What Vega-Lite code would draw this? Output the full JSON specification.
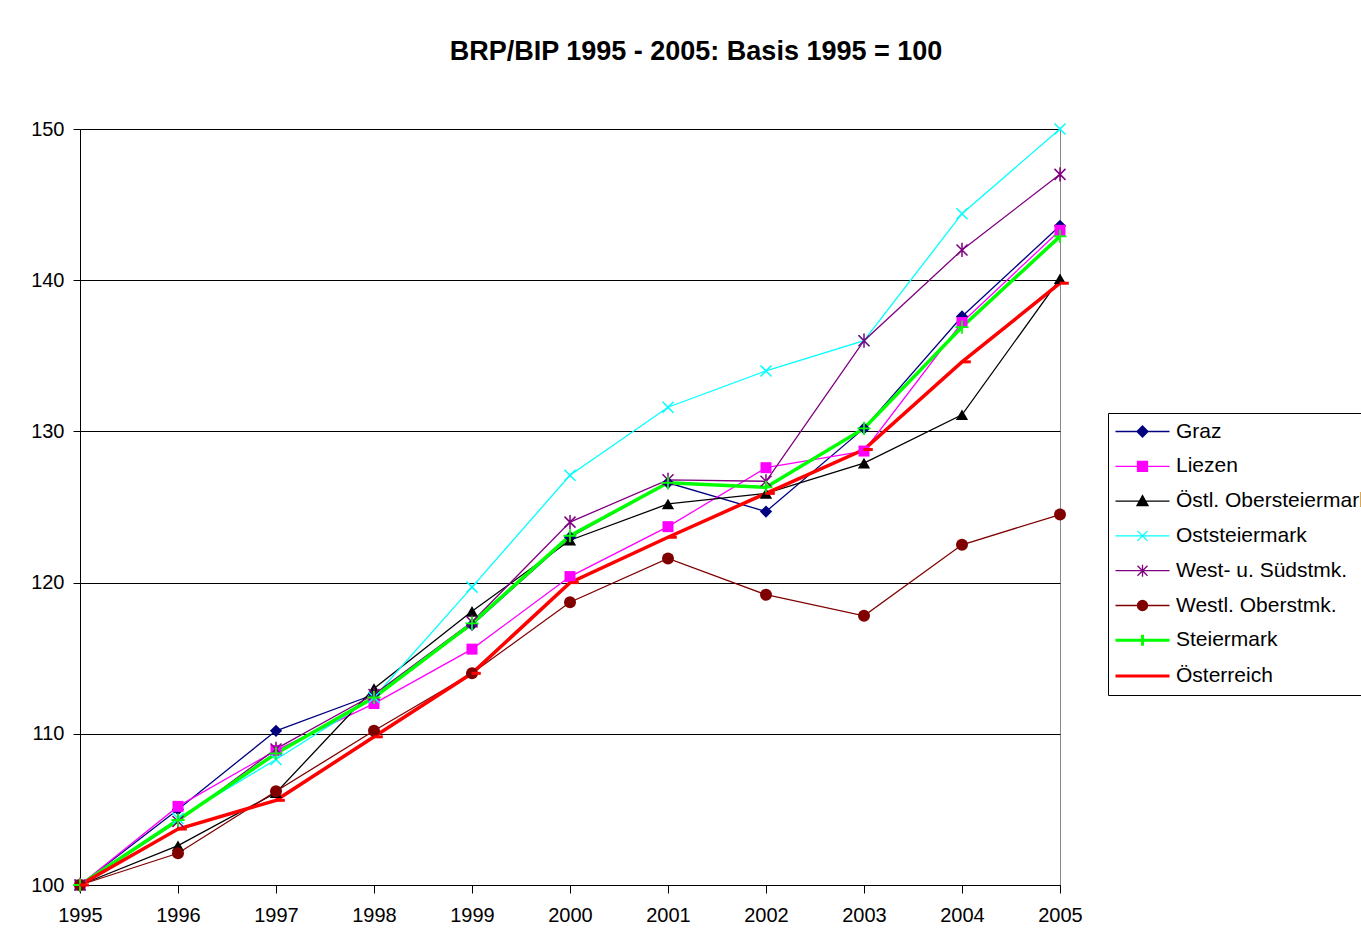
{
  "$schema": "https://vega.github.io/schema/vega-lite/v6.json",
  "width": 980,
  "height": 756,
  "autosize": {"type": "none"},
  "padding": {"left": 80, "top": 129, "right": 301, "bottom": 46},
  "background": "white",
  "config": {
    "view": {"stroke": "#888888", "strokeWidth": 1},
    "font": "Liberation Sans"
  },
  "title": {
    "text": "BRP/BIP 1995 - 2005: Basis 1995 = 100",
    "font": "Liberation Sans",
    "fontSize": 27,
    "fontWeight": "bold",
    "color": "#000",
    "anchor": "middle",
    "dx": 126,
    "baseline": "alphabetic",
    "offset": 32
  },
  "data": {
    "values": [
      {"year": 1995, "series": "Graz", "value": 100},
      {"year": 1996, "series": "Graz", "value": 105.0},
      {"year": 1997, "series": "Graz", "value": 110.2},
      {"year": 1998, "series": "Graz", "value": 112.6},
      {"year": 1999, "series": "Graz", "value": 117.2},
      {"year": 2000, "series": "Graz", "value": 123.0},
      {"year": 2001, "series": "Graz", "value": 126.6},
      {"year": 2002, "series": "Graz", "value": 124.7},
      {"year": 2003, "series": "Graz", "value": 130.2},
      {"year": 2004, "series": "Graz", "value": 137.6},
      {"year": 2005, "series": "Graz", "value": 143.6},
      {"year": 1995, "series": "Liezen", "value": 100},
      {"year": 1996, "series": "Liezen", "value": 105.2},
      {"year": 1997, "series": "Liezen", "value": 108.9},
      {"year": 1998, "series": "Liezen", "value": 112.0},
      {"year": 1999, "series": "Liezen", "value": 115.6},
      {"year": 2000, "series": "Liezen", "value": 120.4},
      {"year": 2001, "series": "Liezen", "value": 123.7},
      {"year": 2002, "series": "Liezen", "value": 127.6},
      {"year": 2003, "series": "Liezen", "value": 128.7},
      {"year": 2004, "series": "Liezen", "value": 137.2},
      {"year": 2005, "series": "Liezen", "value": 143.3},
      {"year": 1995, "series": "Östl. Obersteiermark", "value": 100},
      {"year": 1996, "series": "Östl. Obersteiermark", "value": 102.6},
      {"year": 1997, "series": "Östl. Obersteiermark", "value": 106.1},
      {"year": 1998, "series": "Östl. Obersteiermark", "value": 113.0},
      {"year": 1999, "series": "Östl. Obersteiermark", "value": 118.1},
      {"year": 2000, "series": "Östl. Obersteiermark", "value": 122.8},
      {"year": 2001, "series": "Östl. Obersteiermark", "value": 125.2},
      {"year": 2002, "series": "Östl. Obersteiermark", "value": 125.9},
      {"year": 2003, "series": "Östl. Obersteiermark", "value": 127.9},
      {"year": 2004, "series": "Östl. Obersteiermark", "value": 131.1},
      {"year": 2005, "series": "Östl. Obersteiermark", "value": 140.1},
      {"year": 1995, "series": "Oststeiermark", "value": 100},
      {"year": 1996, "series": "Oststeiermark", "value": 104.4},
      {"year": 1997, "series": "Oststeiermark", "value": 108.3},
      {"year": 1998, "series": "Oststeiermark", "value": 112.4},
      {"year": 1999, "series": "Oststeiermark", "value": 119.7},
      {"year": 2000, "series": "Oststeiermark", "value": 127.1},
      {"year": 2001, "series": "Oststeiermark", "value": 131.6},
      {"year": 2002, "series": "Oststeiermark", "value": 134.0},
      {"year": 2003, "series": "Oststeiermark", "value": 136.0},
      {"year": 2004, "series": "Oststeiermark", "value": 144.4},
      {"year": 2005, "series": "Oststeiermark", "value": 150.0},
      {"year": 1995, "series": "West- u. Südstmk.", "value": 100},
      {"year": 1996, "series": "West- u. Südstmk.", "value": 104.2},
      {"year": 1997, "series": "West- u. Südstmk.", "value": 109.0},
      {"year": 1998, "series": "West- u. Südstmk.", "value": 112.6},
      {"year": 1999, "series": "West- u. Südstmk.", "value": 117.4},
      {"year": 2000, "series": "West- u. Südstmk.", "value": 124.0},
      {"year": 2001, "series": "West- u. Südstmk.", "value": 126.8},
      {"year": 2002, "series": "West- u. Südstmk.", "value": 126.7},
      {"year": 2003, "series": "West- u. Südstmk.", "value": 136.0},
      {"year": 2004, "series": "West- u. Südstmk.", "value": 142.0},
      {"year": 2005, "series": "West- u. Südstmk.", "value": 147.0},
      {"year": 1995, "series": "Westl. Oberstmk.", "value": 100},
      {"year": 1996, "series": "Westl. Oberstmk.", "value": 102.1},
      {"year": 1997, "series": "Westl. Oberstmk.", "value": 106.2},
      {"year": 1998, "series": "Westl. Oberstmk.", "value": 110.2},
      {"year": 1999, "series": "Westl. Oberstmk.", "value": 114.0},
      {"year": 2000, "series": "Westl. Oberstmk.", "value": 118.7},
      {"year": 2001, "series": "Westl. Oberstmk.", "value": 121.6},
      {"year": 2002, "series": "Westl. Oberstmk.", "value": 119.2},
      {"year": 2003, "series": "Westl. Oberstmk.", "value": 117.8},
      {"year": 2004, "series": "Westl. Oberstmk.", "value": 122.5},
      {"year": 2005, "series": "Westl. Oberstmk.", "value": 124.5},
      {"year": 1995, "series": "Steiermark", "value": 100},
      {"year": 1996, "series": "Steiermark", "value": 104.3},
      {"year": 1997, "series": "Steiermark", "value": 108.7},
      {"year": 1998, "series": "Steiermark", "value": 112.4},
      {"year": 1999, "series": "Steiermark", "value": 117.3},
      {"year": 2000, "series": "Steiermark", "value": 123.1},
      {"year": 2001, "series": "Steiermark", "value": 126.6},
      {"year": 2002, "series": "Steiermark", "value": 126.3},
      {"year": 2003, "series": "Steiermark", "value": 130.2},
      {"year": 2004, "series": "Steiermark", "value": 136.9},
      {"year": 2005, "series": "Steiermark", "value": 142.9},
      {"year": 1995, "series": "Österreich", "value": 100},
      {"year": 1996, "series": "Österreich", "value": 103.7},
      {"year": 1997, "series": "Österreich", "value": 105.6},
      {"year": 1998, "series": "Österreich", "value": 109.8},
      {"year": 1999, "series": "Österreich", "value": 114.0},
      {"year": 2000, "series": "Österreich", "value": 120.0},
      {"year": 2001, "series": "Österreich", "value": 123.0},
      {"year": 2002, "series": "Österreich", "value": 125.9},
      {"year": 2003, "series": "Österreich", "value": 128.8},
      {"year": 2004, "series": "Österreich", "value": 134.6},
      {"year": 2005, "series": "Österreich", "value": 139.8}
    ]
  },
  "encoding": {
    "x": {
      "field": "year",
      "type": "quantitative",
      "scale": {"domain": [1995, 2005], "nice": false, "zero": false},
      "axis": {
        "title": null,
        "values": [1995, 1996, 1997, 1998, 1999, 2000, 2001, 2002, 2003, 2004, 2005],
        "format": "d",
        "grid": false,
        "domainColor": "#000",
        "tickColor": "#000",
        "tickSize": 8,
        "labelFont": "Liberation Sans",
        "labelFontSize": 20,
        "labelColor": "#000",
        "labelPadding": 12,
        "labelFlush": false,
        "labelOverlap": false
      }
    },
    "y": {
      "field": "value",
      "type": "quantitative",
      "scale": {"domain": [100, 150], "nice": false, "zero": false},
      "axis": {
        "title": null,
        "values": [100, 110, 120, 130, 140, 150],
        "grid": true,
        "gridColor": "#000",
        "gridWidth": 1,
        "domainColor": "#000",
        "tickColor": "#000",
        "tickSize": 7,
        "labelFont": "Liberation Sans",
        "labelFontSize": 20,
        "labelColor": "#000",
        "labelPadding": 9,
        "labelFlush": false,
        "labelOverlap": false
      }
    },
    "color": {
      "field": "series",
      "type": "nominal",
      "scale": {
        "domain": ["Graz", "Liezen", "Östl. Obersteiermark", "Oststeiermark", "West- u. Südstmk.", "Westl. Oberstmk.", "Steiermark", "Österreich"],
        "range": ["#000080", "#FF00FF", "#000000", "#00FFFF", "#800080", "#800000", "#00FF00", "#FF0000"]
      },
      "legend": {
        "title": null,
        "orient": "none",
        "legendX": 1028,
        "legendY": 284,
        "strokeColor": "#000",
        "fillColor": "#fff",
        "padding": 8,
        "labelFont": "Liberation Sans",
        "labelFontSize": 21,
        "labelColor": "#000",
        "labelLimit": 400,
        "symbolSize": 100,
        "symbolOpacity": 1,
        "labelOffset": 39,
        "rowPadding": 12.8,
        "encode": {
          "symbols": {
            "update": {
              "shape": {"signal": "datum.value==='Graz'?'M-2.2,0L8.6,0M3.2,-1.1L4.3,0L3.2,1.1L2.1,0Z':datum.value==='Liezen'?'M-2.2,0L8.6,0M2.2,-1L4.2,-1L4.2,1L2.2,1Z':datum.value==='Östl. Obersteiermark'?'M-2.2,0L8.6,0M3.2,-1.1L4.3,0.9L2.1,0.9Z':datum.value==='Oststeiermark'?'M-2.2,0L8.6,0M2.2,-1L4.2,1M2.2,1L4.2,-1':datum.value==='West- u. Südstmk.'?'M-2.2,0L8.6,0M2.2,-1L4.2,1M2.2,1L4.2,-1M3.2,-1.2L3.2,1.2':datum.value==='Westl. Oberstmk.'?'M-2.2,0L8.6,0M2.2,0A1,1 0 1,0 4.2,0A1,1 0 1,0 2.2,0Z':datum.value==='Steiermark'?'M-2.2,0L8.6,0M3.2,-1.1L3.2,1.1':'M-2.2,0L8.6,0M3.2,0L4.6,0'"},
              "strokeWidth": {"signal": "datum.value==='Steiermark'||datum.value==='Österreich'?3:1.3"}
            }
          }
        }
      }
    }
  },
  "layer": [
    {
      "transform": [{"filter": {"field": "series", "oneOf": ["Graz", "Liezen", "Östl. Obersteiermark", "Oststeiermark", "West- u. Südstmk.", "Westl. Oberstmk."]}}],
      "mark": {"type": "line", "strokeWidth": 1.3},
      "encoding": {"x": {"field": "year", "type": "quantitative"}}
    },
    {
      "transform": [{"filter": {"field": "series", "oneOf": ["Steiermark", "Österreich"]}}],
      "mark": {"type": "line", "strokeWidth": 3.5},
      "encoding": {"x": {"field": "year", "type": "quantitative"}}
    },
    {
      "transform": [{"filter": {"field": "series", "equal": "Graz"}}],
      "mark": {"type": "point", "filled": true, "shape": "diamond", "size": 150, "opacity": 1},
      "encoding": {"x": {"field": "year", "type": "quantitative"}}
    },
    {
      "transform": [{"filter": {"field": "series", "equal": "Liezen"}}],
      "mark": {"type": "point", "filled": true, "shape": "square", "size": 121, "opacity": 1},
      "encoding": {"x": {"field": "year", "type": "quantitative"}}
    },
    {
      "transform": [{"filter": {"field": "series", "equal": "Östl. Obersteiermark"}}],
      "mark": {"type": "point", "filled": true, "shape": "triangle-up", "size": 150, "opacity": 1},
      "encoding": {"x": {"field": "year", "type": "quantitative"}}
    },
    {
      "transform": [{"filter": {"field": "series", "equal": "Oststeiermark"}}],
      "mark": {"type": "point", "filled": false, "shape": "M-1,-1L1,1M-1,1L1,-1", "size": 121, "strokeWidth": 1.5, "opacity": 1},
      "encoding": {"x": {"field": "year", "type": "quantitative"}}
    },
    {
      "transform": [{"filter": {"field": "series", "equal": "West- u. Südstmk."}}],
      "mark": {"type": "point", "filled": false, "shape": "M-1,-1L1,1M-1,1L1,-1M0,-1.3L0,1.3", "size": 121, "strokeWidth": 1.5, "opacity": 1},
      "encoding": {"x": {"field": "year", "type": "quantitative"}}
    },
    {
      "transform": [{"filter": {"field": "series", "equal": "Westl. Oberstmk."}}],
      "mark": {"type": "point", "filled": true, "shape": "circle", "size": 144, "opacity": 1},
      "encoding": {"x": {"field": "year", "type": "quantitative"}}
    },
    {
      "transform": [{"filter": {"field": "series", "equal": "Steiermark"}}],
      "mark": {"type": "point", "filled": false, "shape": "M-1.2,0L1.2,0M0,-1.2L0,1.2", "size": 121, "strokeWidth": 1.8, "opacity": 1},
      "encoding": {"x": {"field": "year", "type": "quantitative"}}
    },
    {
      "transform": [{"filter": {"field": "series", "equal": "Österreich"}}],
      "mark": {"type": "point", "filled": false, "shape": "M-0.1,0L1.6,0", "size": 121, "strokeWidth": 3, "opacity": 1},
      "encoding": {"x": {"field": "year", "type": "quantitative"}}
    }
  ]
}
